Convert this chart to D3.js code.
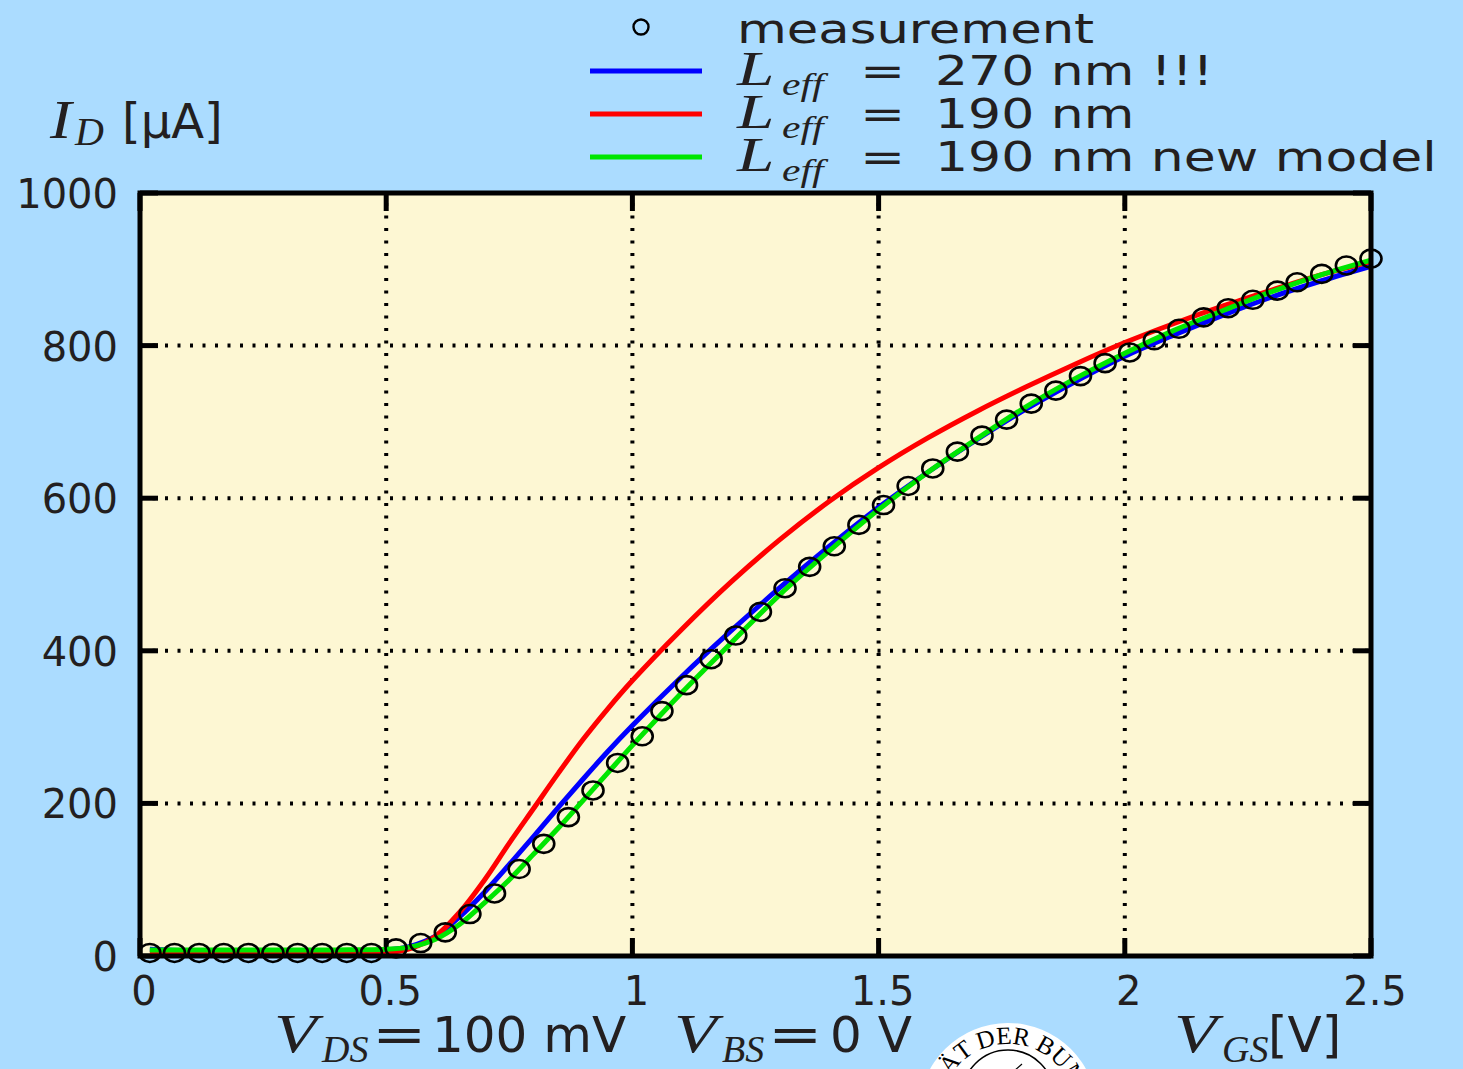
<!DOCTYPE html>
<html>
<head>
<meta charset="utf-8">
<script src="https://cdn.jsdelivr.net/npm/d3@7"></script>
<style>
  body { margin: 0; background: #abdcff; }
  svg { display: block; }
</style>
</head>
<body>
<div id="chart"></div>
<script>
// measured drain current, V_DS = 100 mV
const vgsMeas = [0.02, 0.07, 0.12, 0.17, 0.22, 0.27, 0.32, 0.37, 0.42, 0.47,
  0.52, 0.57, 0.62, 0.67, 0.72, 0.77, 0.82, 0.87, 0.92, 0.97,
  1.02, 1.06, 1.11, 1.16, 1.21, 1.26, 1.31, 1.36, 1.41, 1.46,
  1.51, 1.56, 1.61, 1.66, 1.71, 1.76, 1.81, 1.86, 1.91, 1.96,
  2.01, 2.06, 2.11, 2.16, 2.21, 2.26, 2.31, 2.35, 2.40, 2.45, 2.50];
const idMeas = [4, 4, 4, 4, 4, 4, 4, 4, 4, 4,
  10, 17, 31, 55, 82, 114, 147, 182, 217, 253,
  288, 321, 355, 389, 420, 451, 482, 510, 537, 565,
  591, 616, 639, 661, 682, 703, 724, 741, 760, 777,
  791, 807, 822, 837, 849, 860, 872, 883, 894, 905, 914];

// simulated curves
const vgsModel = [0.02, 0.1, 0.2, 0.3, 0.4, 0.5, 0.55, 0.6, 0.65, 0.7, 0.75, 0.8, 0.85, 0.9, 0.95,
  1.0, 1.1, 1.2, 1.3, 1.4, 1.5, 1.6, 1.7, 1.8, 1.9, 2.0, 2.1, 2.2, 2.3, 2.4, 2.5];
const idL270 = [9, 7, 7, 7, 7, 8, 13, 26, 52, 84, 120, 157, 195, 232, 268,
  302, 366, 426, 483, 537, 588, 634, 677, 717, 753, 786, 814, 840, 864, 885, 904];
const idL190 = [3, 3, 3, 3, 3, 4, 10, 26, 58, 100, 148, 194, 240, 284, 324,
  361, 428, 490, 546, 596, 640, 679, 714, 746, 776, 804, 829, 852, 873, 893, 910];
const idL190new = [8, 8, 8, 8, 8, 9, 12, 22, 42, 70, 100, 134, 168, 204, 240,
  276, 345, 410, 474, 531, 585, 634, 678, 720, 757, 790, 820, 846, 871, 893, 912];

const xTicks = [0, 0.5, 1, 1.5, 2, 2.5];
const xTickLabels = ['0', '0.5', '1', '1.5', '2', '2.5'];
const yTicks = [0, 200, 400, 600, 800, 1000];

const seriesNames = ['270 nm !!!', '190 nm', '190 nm new model'];
const seriesColors = ['#0000ff', '#ff0000', '#00e600'];

const W = 1463, H = 1069;
const plot = { left: 140, right: 1371, top: 193, bottom: 956 };
const ink = '#231f20';
const sans = 'DejaVu Sans';
const serif = 'Liberation Serif';

const svg = d3.select('#chart').append('svg')
  .attr('width', W).attr('height', H);

svg.append('rect').attr('width', W).attr('height', H).attr('fill', '#abdcff');

const x = d3.scaleLinear().domain([0, 2.5]).range([plot.left, plot.right]);
const y = d3.scaleLinear().domain([0, 1000]).range([plot.bottom, plot.top]);

svg.append('rect')
  .attr('x', plot.left).attr('y', plot.top)
  .attr('width', plot.right - plot.left).attr('height', plot.bottom - plot.top)
  .attr('fill', '#fdf7d3');

// dotted grid
const grid = svg.append('g').attr('stroke', '#000').attr('stroke-width', 4)
  .attr('stroke-dasharray', '3,9.5');
grid.selectAll('.gx').data(xTicks.slice(1, -1)).join('line')
  .attr('x1', d => x(d)).attr('x2', d => x(d))
  .attr('y1', plot.bottom).attr('y2', plot.top);
grid.selectAll('.gy').data(yTicks.slice(1, -1)).join('line')
  .attr('y1', d => y(d)).attr('y2', d => y(d))
  .attr('x1', plot.left).attr('x2', plot.right);

// inward ticks on all four sides
const tickLen = 18;
const ticks = svg.append('g').attr('stroke', '#000').attr('stroke-width', 5);
ticks.selectAll('.tb').data(xTicks).join('line')
  .attr('x1', d => x(d)).attr('x2', d => x(d))
  .attr('y1', plot.bottom).attr('y2', plot.bottom - tickLen);
ticks.selectAll('.tt').data(xTicks).join('line')
  .attr('x1', d => x(d)).attr('x2', d => x(d))
  .attr('y1', plot.top).attr('y2', plot.top + tickLen);
ticks.selectAll('.tl').data(yTicks).join('line')
  .attr('y1', d => y(d)).attr('y2', d => y(d))
  .attr('x1', plot.left).attr('x2', plot.left + tickLen);
ticks.selectAll('.tr').data(yTicks).join('line')
  .attr('y1', d => y(d)).attr('y2', d => y(d))
  .attr('x1', plot.right).attr('x2', plot.right - tickLen);

// curves
const line = d3.line().x(d => x(d[0])).y(d => y(d[1])).curve(d3.curveCatmullRom.alpha(0.5));
[idL270, idL190, idL190new].forEach((vals, i) => {
  svg.append('path')
    .datum(d3.zip(vgsModel, vals))
    .attr('d', line)
    .attr('fill', 'none')
    .attr('stroke', seriesColors[i])
    .attr('stroke-width', 5)
    .attr('stroke-linejoin', 'round');
});

// measurement markers
svg.append('g').selectAll('ellipse')
  .data(d3.zip(vgsMeas, idMeas))
  .join('ellipse')
  .attr('cx', d => x(d[0])).attr('cy', d => y(d[1]))
  .attr('rx', 10.5).attr('ry', 9)
  .attr('fill', 'none').attr('stroke', '#000').attr('stroke-width', 2.6);

// frame
svg.append('rect')
  .attr('x', plot.left).attr('y', plot.top)
  .attr('width', plot.right - plot.left).attr('height', plot.bottom - plot.top)
  .attr('fill', 'none').attr('stroke', '#000').attr('stroke-width', 5);

// tick labels
svg.append('g').selectAll('text').data(yTicks).join('text')
  .attr('x', 118).attr('y', d => y(d) + 15)
  .attr('text-anchor', 'end')
  .attr('font-family', sans).attr('font-size', 40).attr('fill', ink)
  .text(d => d);
svg.append('g').selectAll('text').data(xTicks).join('text')
  .attr('x', d => x(d) + 4).attr('y', plot.bottom + 49)
  .attr('text-anchor', 'middle')
  .attr('font-family', sans).attr('font-size', 40).attr('fill', ink)
  .text((d, i) => xTickLabels[i]);

// small text helper: left-aligned, optional horizontal stretch
function label(px, py, str, { size = 40, family = sans, italic = false, sx = 1 } = {}) {
  svg.append('text')
    .attr('transform', `translate(${px},${py}) scale(${sx},1)`)
    .attr('font-family', family)
    .attr('font-style', italic ? 'italic' : 'normal')
    .attr('font-size', size)
    .attr('fill', ink)
    .text(str);
}

// y axis title
label(50, 138, 'I', { size: 54, family: serif, italic: true, sx: 1.2 });
label(75, 145, 'D', { size: 40, family: serif, italic: true });
label(122, 138, '[\u00b5A]', { size: 48 });

// bottom annotations
label(274, 1052, 'V', { size: 54, family: serif, italic: true, sx: 1.3 });
label(322, 1062, 'DS', { size: 38, family: serif, italic: true });
label(372, 1052, '=', { size: 50, sx: 1.3 });
label(432, 1052, '100 mV', { size: 50 });
label(674, 1052, 'V', { size: 54, family: serif, italic: true, sx: 1.3 });
label(722, 1062, 'BS', { size: 38, family: serif, italic: true });
label(768, 1052, '=', { size: 50, sx: 1.3 });
label(830, 1052, '0 V', { size: 50 });
label(1174, 1052, 'V', { size: 54, family: serif, italic: true, sx: 1.3 });
label(1222, 1062, 'GS', { size: 38, family: serif, italic: true });
label(1268, 1052, '[V]', { size: 50 });

// legend
svg.append('circle').attr('cx', 641).attr('cy', 27).attr('r', 7.5)
  .attr('fill', 'none').attr('stroke', '#000').attr('stroke-width', 2.4);
label(737, 43, 'measurement', { size: 40, sx: 1.28 });
seriesNames.forEach((name, i) => {
  const ly = 71 + i * 43;
  svg.append('line')
    .attr('x1', 590).attr('x2', 702).attr('y1', ly).attr('y2', ly)
    .attr('stroke', seriesColors[i]).attr('stroke-width', 5);
  const by = ly + 14;
  label(737, by, 'L', { size: 48, family: serif, italic: true, sx: 1.4 });
  label(782, by + 10, 'eff', { size: 32, family: serif, italic: true, sx: 1.3 });
  label(860, by, '=', { size: 40, sx: 1.35 });
  label(935, by, name, { size: 40, sx: 1.3 });
});

// university seal, cut off by the bottom edge
const seal = svg.append('g').attr('transform', 'translate(1008,1112)');
seal.append('circle').attr('r', 89).attr('fill', '#fff');
seal.append('path').attr('id', 'sealArc')
  .attr('d', 'M -68,0 A 68,68 0 0,1 68,0').attr('fill', 'none');
seal.append('text')
  .attr('font-family', serif).attr('font-size', 25).attr('fill', '#000')
  .append('textPath').attr('href', '#sealArc')
  .attr('startOffset', '50%').attr('text-anchor', 'middle')
  .text('UNIVERSITÄT DER BUNDESWEHR');
seal.append('circle').attr('r', 46).attr('cy', -16)
  .attr('fill', 'none').attr('stroke', '#000').attr('stroke-width', 1.5);
seal.append('line').attr('x1', 14).attr('y1', -48).attr('x2', -2).attr('y2', -34)
  .attr('stroke', '#000').attr('stroke-width', 1.2);
</script>
</body>
</html>
